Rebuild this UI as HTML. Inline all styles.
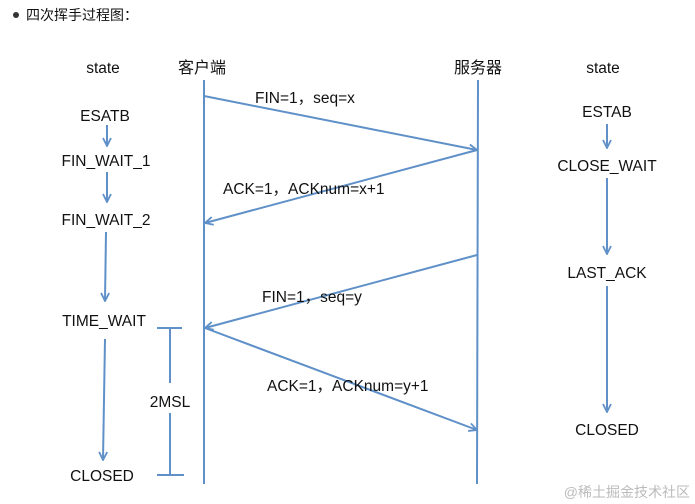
<!DOCTYPE html>
<html><head><meta charset="utf-8"><style>
html,body{margin:0;padding:0;background:#fff;width:695px;height:504px;overflow:hidden}
svg text{font-family:"Liberation Sans","Noto Sans CJK SC",sans-serif;fill:#111}
</style></head><body>
<svg width="695" height="504" viewBox="0 0 695 504" xmlns="http://www.w3.org/2000/svg">
<defs>
<marker id="a" markerWidth="10" markerHeight="10" refX="9" refY="5" orient="auto" markerUnits="userSpaceOnUse">
<path d="M1,1 L9,5 L1,9" fill="none" stroke="#5f90c8" stroke-width="1.8"/>
</marker>
</defs>
<circle cx="16" cy="15" r="3" fill="#333"/>
<text x="26" y="20" font-size="14" fill="#333">四次挥手过程图：</text>

<text x="103" y="73" font-size="15.5" text-anchor="middle">state</text>
<text x="202" y="73" font-size="16" text-anchor="middle">客户端</text>
<text x="478" y="73" font-size="16" text-anchor="middle">服务器</text>
<text x="603" y="73" font-size="15.5" text-anchor="middle">state</text>

<g stroke="#5f90c8" stroke-width="2" fill="none">
<line x1="204" y1="80" x2="204" y2="484"/>
<line x1="478" y1="80" x2="477" y2="484"/>
<line x1="204" y1="96" x2="477" y2="150" marker-end="url(#a)"/>
<line x1="477" y1="150" x2="205" y2="223" marker-end="url(#a)"/>
<line x1="477" y1="255" x2="205" y2="328" marker-end="url(#a)"/>
<line x1="205" y1="328" x2="477" y2="430" marker-end="url(#a)"/>
<line x1="107" y1="125" x2="107" y2="146" marker-end="url(#a)"/>
<line x1="107" y1="172" x2="107" y2="202" marker-end="url(#a)"/>
<line x1="106" y1="232" x2="105" y2="301" marker-end="url(#a)"/>
<line x1="105" y1="339" x2="103" y2="460" marker-end="url(#a)"/>
<line x1="607" y1="124" x2="607" y2="148" marker-end="url(#a)"/>
<line x1="607" y1="178" x2="607" y2="254" marker-end="url(#a)"/>
<line x1="607" y1="286" x2="607" y2="412" marker-end="url(#a)"/>
<line x1="157" y1="328" x2="182" y2="328"/>
<line x1="170" y1="328" x2="170" y2="383"/>
<line x1="170" y1="413" x2="170" y2="475"/>
<line x1="157" y1="475" x2="184" y2="475"/>
</g>

<g font-size="15.5" text-anchor="middle">
<text x="105" y="121">ESATB</text>
<text x="106" y="166">FIN_WAIT_1</text>
<text x="106" y="225">FIN_WAIT_2</text>
<text x="104" y="326">TIME_WAIT</text>
<text x="102" y="481">CLOSED</text>
<text x="170" y="407">2MSL</text>
<text x="607" y="117">ESTAB</text>
<text x="607" y="171">CLOSE_WAIT</text>
<text x="607" y="278">LAST_ACK</text>
<text x="607" y="435">CLOSED</text>
</g>
<g font-size="15.5">
<text x="255" y="103">FIN=1，seq=x</text>
<text x="223" y="194">ACK=1，ACKnum=x+1</text>
<text x="262" y="302">FIN=1，seq=y</text>
<text x="267" y="391">ACK=1，ACKnum=y+1</text>
</g>
<text x="690" y="497" font-size="14" text-anchor="end" style="fill:#bbb">@稀土掘金技术社区</text>
</svg>
</body></html>
